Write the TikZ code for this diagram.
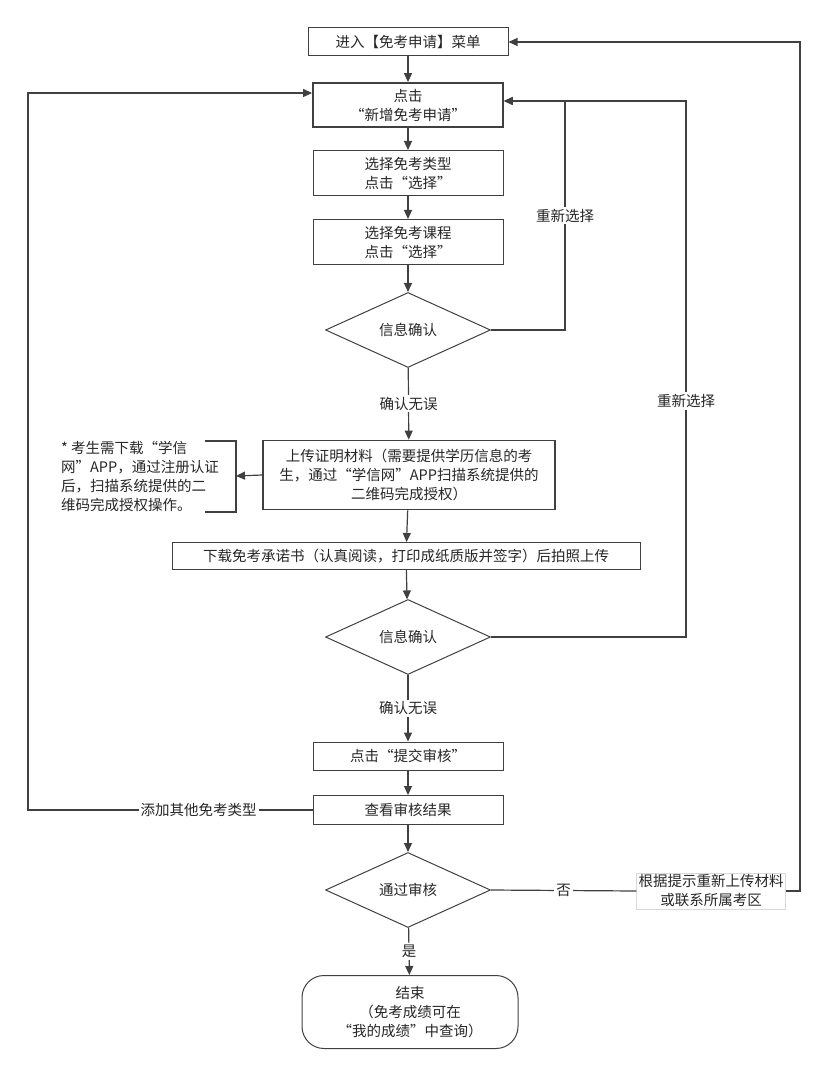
\documentclass[tikz,border=0pt]{standalone}
\usepackage{fontspec}
\setmainfont{Noto Sans CJK SC}
\usetikzlibrary{shapes.geometric,arrows.meta}
\begin{document}
\begin{tikzpicture}[
        x = 1pt, y = -1pt,
        every node/.style = {font=\fontsize{14.5}{19}\selectfont, text=black!85},
        box/.style        = {draw=black!75, line width=1pt, minimum width=190pt, minimum height=28pt, align=center, inner sep=1pt},
        thickbox/.style   = {box, line width=1.8pt},
        check/.style      = {diamond, aspect=2.2, draw=black!75, line width=1pt, minimum width=165pt, minimum height=75pt, inner sep=0pt},
        lbl/.style        = {fill=white, inner sep=2pt},
        flow/.style       = {draw=black!75, line width=1.2pt, -{Triangle[length=9pt,width=8pt]}},
        line/.style       = {draw=black!75, line width=1.2pt},
      ]
    \useasboundingbox (0,0) rectangle (828,1075);
    % main column
    \node[box, minimum width=200pt] (menu) at (408,42) {进入【免考申请】菜单};
    \node[thickbox, minimum height=44pt] (new) at (408,105) {点击\\“新增免考申请”};
    \node[box, minimum height=45pt] (type) at (408,173) {选择免考类型\\点击“选择”};
    \node[box, minimum height=45pt] (course) at (408,242) {选择免考课程\\点击“选择”};
    \node[check] (chk1) at (408,330) {信息确认};
    \node[thickbox, minimum width=292pt, minimum height=69pt] (upload) at (409,475) {上传证明材料（需要提供学历信息的考\\生，通过“学信网”APP扫描系统提供的\\二维码完成授权）};
    \node[box, minimum width=468pt, minimum height=27pt] (promise) at (406,556) {下载免考承诺书（认真阅读，打印成纸质版并签字）后拍照上传};
    \node[check] (chk2) at (408,637) {信息确认};
    \node[box] (submit) at (408,756) {点击“提交审核”};
    \node[box, minimum height=29pt] (result) at (408,810) {查看审核结果};
    \node[check] (pass) at (408,890) {通过审核};
    \node[draw=black!75, line width=1pt, rounded corners=22pt, minimum width=216pt, minimum height=73pt, align=center, inner sep=1pt] (end) at (410,1012) {结束\\（免考成绩可在\\“我的成绩”中查询）};
    % side notes
    \node[align=left, inner sep=0pt] (note) at (140,476) {* 考生需下载“学信\\网”APP，通过注册认证\\后，扫描系统提供的二\\维码完成授权操作。};
    \node[draw=black!15, line width=0.5pt, align=center, inner sep=2pt, fill=white] (retry) at (711,891) {根据提示重新上传材料\\或联系所属考区};
    \coordinate (brk) at (236,476);
    % main flow
    \draw[flow] (menu) -- (new);
    \draw[flow] (new) -- (type);
    \draw[flow] (type) -- (course);
    \draw[flow] (course) -- (chk1);
    \draw[flow] (chk1) -- node[lbl] {确认无误} (upload);
    \draw[flow] (upload) -- (promise);
    \draw[flow] (promise) -- (chk2);
    \draw[flow] (chk2) -- node[lbl] {确认无误} (submit);
    \draw[flow] (submit) -- (result);
    \draw[flow] (result) -- (pass);
    \draw[flow] (pass) -- node[lbl] {是} (end);
    % loops back
    \draw[flow] (chk1.east) -| node[lbl, pos=0.75] {重新选择} (565,101) -- (new.east |- 0,101);
    \draw[flow] (chk2.east) -| node[lbl, pos=0.72] {重新选择} (686,101) -- (new.east |- 0,101);
    \draw[flow] (result.west) -- node[lbl, pos=0.4] {添加其他免考类型} (28,810) |- (new.west |- 0,93);
    \draw[line] (pass.east) -- node[lbl] {否} (retry.west);
    \draw[flow] (retry.east) -- (800,891) |- (menu.east);
    % note bracket
    \draw[line] (205,441) -- (236,441) -- (236,512) -- (205,512);
    \draw[flow] (upload.west) -- (brk);
\end{tikzpicture}
\end{document}
